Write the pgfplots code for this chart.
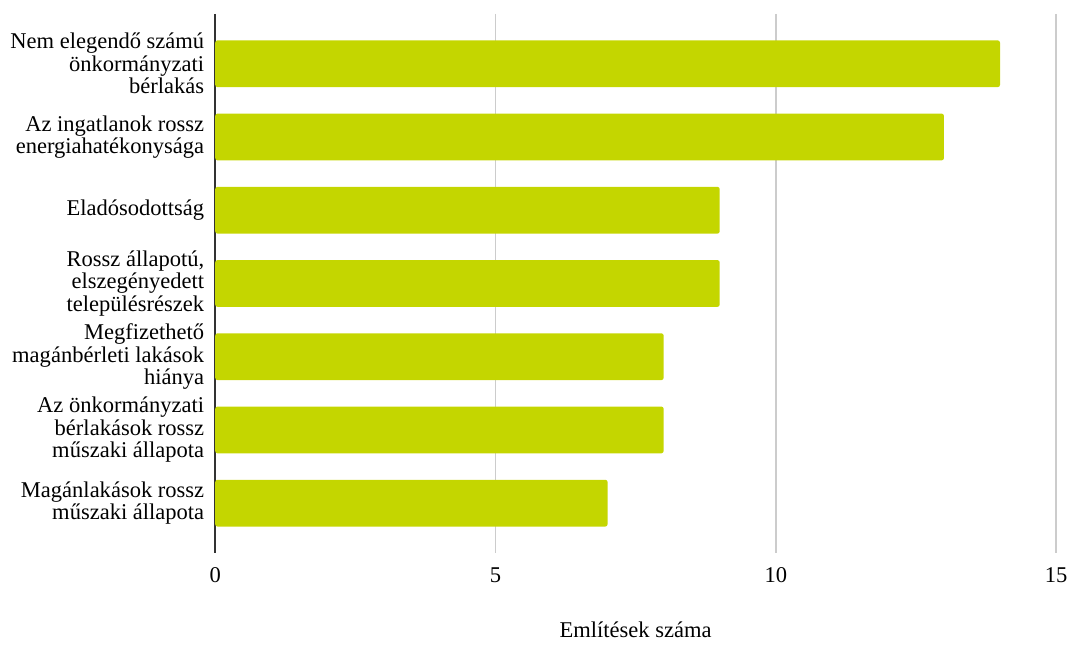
\documentclass[border=0pt]{standalone}
\usepackage{fontspec}
\setmainfont{Liberation Serif}
\usepackage{pgfplots}
\pgfplotsset{compat=1.18}
\definecolor{barc}{RGB}{196,214,0}
\definecolor{gridc}{RGB}{204,204,204}
\definecolor{axc}{RGB}{51,51,51}
\begin{document}
\begin{tikzpicture}
\begin{axis}[
  scale only axis, width=422pt, height=270.5pt,
  xbar, bar width=23.5pt,
  xmin=0, xmax=15, ymin=-0.68, ymax=6.68, y dir=reverse,
  axis line style={draw=none},
  major tick length=0pt,
  xtick={5,10,15},
  xmajorgrids, grid style={gridc, line width=0.8pt},
  extra x ticks={0},
  extra x tick style={grid style={axc, line width=1pt}},
  ytick={0,...,6},
  yticklabels={{Nem elegendő számú\\önkormányzati\\bérlakás},
               {Az ingatlanok rossz\\energiahatékonysága},
               {Eladósodottság},
               {Rossz állapotú,\\elszegényedett\\településrészek},
               {Megfizethető\\magánbérleti lakások\\hiánya},
               {Az önkormányzati\\bérlakások rossz\\műszaki állapota},
               {Magánlakások rossz\\műszaki állapota}},
  yticklabel style={align=right, font=\fontsize{11.3}{11.3}\selectfont, xshift=-2pt},
  xticklabel style={font=\fontsize{11.3}{11.3}\selectfont, yshift=-3.7pt},
  /pgf/number format/assume math mode=true,
  xlabel={Említések száma},
  xlabel style={at={(axis description cs:0.5,0)}, anchor=center, yshift=-38.5pt, font=\fontsize{11.3}{11.3}\selectfont},
]
\addplot[fill=barc, draw=none, rounded corners=1.2pt] coordinates {
  (14,0) (13,1) (9,2) (9,3) (8,4) (8,5) (7,6)
};
\end{axis}
\path ([xshift=-108pt,yshift=-44pt]current axis.south west) rectangle ([xshift=7pt,yshift=7pt]current axis.north east);
\end{tikzpicture}
\end{document}
